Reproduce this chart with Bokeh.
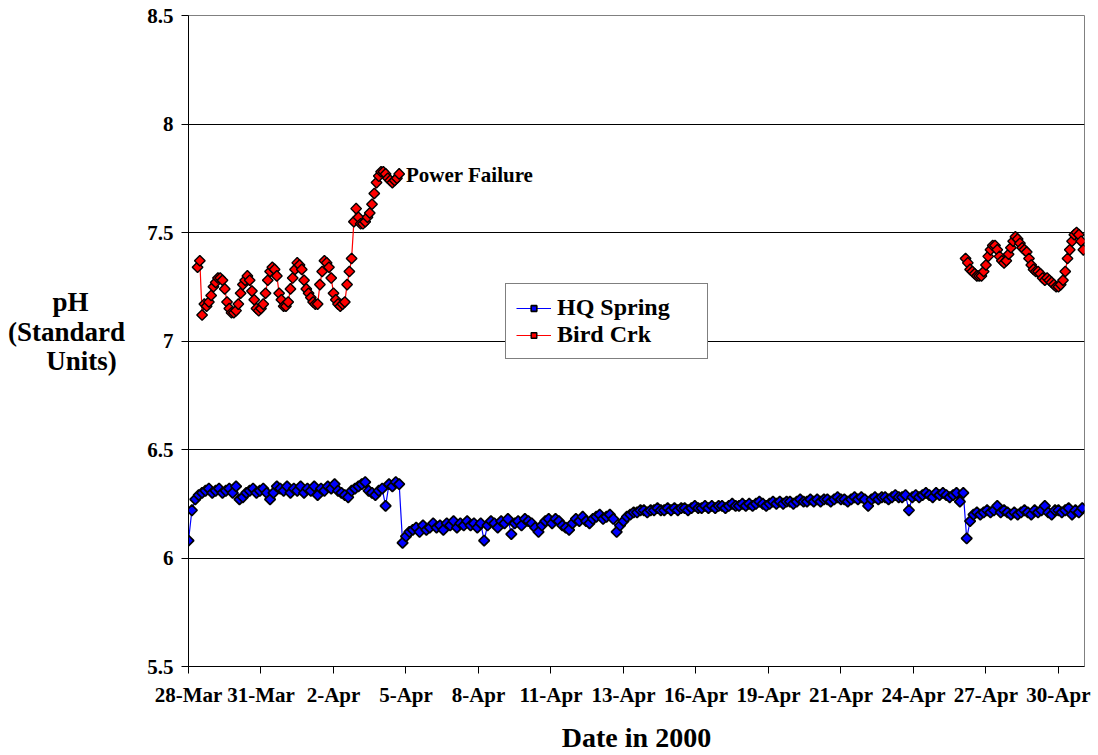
import math
from bokeh.plotting import figure
from bokeh.layouts import row
from bokeh.models import (Range1d, FixedTicker, Label, Legend, LegendItem,
                          ColumnDataSource, CustomJSTickFormatter)
from bokeh.embed import file_html
from bokeh.resources import INLINE

# ---------------- data ----------------
tick_labels = ["28-Mar", "31-Mar", "2-Apr", "5-Apr", "8-Apr", "11-Apr", "13-Apr",
               "16-Apr", "19-Apr", "21-Apr", "24-Apr", "27-Apr", "30-Apr"]
readings_per_label = 64          # hourly readings between category labels
last_reading = 791

y_ticks = [5.5, 6, 6.5, 7, 7.5, 8, 8.5]
y_title_lines = ["pH", "(Standard", "Units)"]

hq_step = 3                      # HQ Spring: every 3rd hourly reading, from reading 0
hq_spring_ph = [
    6.08, 6.22, 6.27, 6.29, 6.30, 6.31, 6.32, 6.30, 6.31, 6.32,
    6.30, 6.31, 6.32, 6.30, 6.33, 6.27, 6.28, 6.30, 6.31, 6.32,
    6.30, 6.31, 6.32, 6.30, 6.27, 6.30, 6.33, 6.32, 6.31, 6.33,
    6.30, 6.32, 6.31, 6.33, 6.30, 6.32, 6.31, 6.33, 6.29, 6.32,
    6.31, 6.33, 6.32, 6.34, 6.31, 6.30, 6.29, 6.28, 6.31, 6.32,
    6.33, 6.34, 6.35, 6.31, 6.30, 6.29, 6.31, 6.32, 6.24, 6.34,
    6.33, 6.35, 6.34,
    6.07, 6.10, 6.12, 6.13, 6.14, 6.12, 6.15, 6.13, 6.14, 6.16,
    6.14, 6.15, 6.13, 6.16, 6.15, 6.17, 6.14, 6.16, 6.15, 6.17,
    6.15, 6.16, 6.14, 6.16, 6.08, 6.15, 6.17, 6.16, 6.14, 6.17,
    6.16, 6.18, 6.11, 6.16, 6.17, 6.15, 6.18, 6.17, 6.16, 6.14,
    6.12, 6.15, 6.17, 6.18, 6.16, 6.18, 6.17, 6.15, 6.14, 6.13,
    6.16, 6.18, 6.17, 6.19, 6.17, 6.16, 6.18, 6.19, 6.20, 6.18,
    6.19, 6.20, 6.18,
    6.12, 6.15, 6.17, 6.19, 6.20, 6.21, 6.21, 6.22, 6.22, 6.21,
    6.22, 6.22, 6.23, 6.22, 6.22, 6.23, 6.22, 6.23, 6.22, 6.23,
    6.23, 6.22, 6.23, 6.24, 6.23, 6.23, 6.24, 6.23, 6.24, 6.23,
    6.24, 6.24, 6.23, 6.24, 6.25, 6.24, 6.24, 6.25, 6.24, 6.25,
    6.24, 6.25, 6.26, 6.25, 6.24, 6.25, 6.26, 6.25, 6.26, 6.25,
    6.26, 6.26, 6.25, 6.26, 6.27, 6.26, 6.26, 6.27, 6.26, 6.27,
    6.26, 6.27, 6.27, 6.26, 6.27, 6.28, 6.27, 6.27, 6.26, 6.27,
    6.28, 6.27, 6.28, 6.27, 6.24, 6.27, 6.28, 6.27, 6.28, 6.28,
    6.27, 6.28, 6.29, 6.28, 6.28, 6.29, 6.22, 6.28, 6.29, 6.28,
    6.29, 6.30, 6.29, 6.28, 6.30, 6.29, 6.30, 6.29, 6.28, 6.29,
    6.30, 6.26, 6.30,
    6.09, 6.17, 6.20, 6.21, 6.20, 6.21, 6.22, 6.21, 6.22, 6.24,
    6.21, 6.22, 6.21, 6.20, 6.21, 6.20, 6.21, 6.22, 6.21, 6.20,
    6.22, 6.21, 6.22, 6.24, 6.21, 6.20, 6.22, 6.22, 6.21, 6.22,
    6.23, 6.20, 6.22, 6.21, 6.23,
]

bird_step = 2                    # Bird Crk: every 2nd hourly reading
bird_start_before = 8            # first reading before the power failure
bird_crk_ph_before = [
    7.34, 7.37, 7.12, 7.17, 7.16, 7.18, 7.21, 7.25, 7.27, 7.29,
    7.29, 7.28, 7.24, 7.18, 7.15, 7.13, 7.13, 7.14, 7.17, 7.22,
    7.26, 7.28, 7.30, 7.28, 7.23, 7.19, 7.15, 7.14, 7.15, 7.17,
    7.22, 7.28, 7.32, 7.34, 7.33, 7.30, 7.22, 7.19, 7.16, 7.16,
    7.18, 7.24, 7.29, 7.33, 7.36, 7.35, 7.33, 7.28, 7.24, 7.22,
    7.20, 7.18, 7.17, 7.17, 7.26, 7.32, 7.37, 7.36, 7.34, 7.29,
    7.22, 7.19, 7.17, 7.16, 7.17, 7.18, 7.26, 7.32, 7.38, 7.55,
    7.61, 7.57, 7.54, 7.54, 7.55, 7.57, 7.59, 7.63, 7.68, 7.73,
    7.76, 7.78, 7.78, 7.77, 7.75, 7.74, 7.73, 7.74, 7.75, 7.77,
]
bird_start_after = 686           # first reading after power restored
bird_crk_ph_after = [
    7.38, 7.36, 7.33, 7.32, 7.31, 7.30, 7.30, 7.30, 7.32, 7.35,
    7.39, 7.42, 7.44, 7.44, 7.42, 7.39, 7.37, 7.36, 7.37, 7.40,
    7.43, 7.46, 7.48, 7.47, 7.45, 7.43, 7.42, 7.41, 7.38, 7.35,
    7.33, 7.32, 7.32, 7.31, 7.29, 7.28, 7.29, 7.28, 7.27, 7.26,
    7.25, 7.25, 7.26, 7.28, 7.32, 7.38, 7.42, 7.46, 7.49, 7.50,
    7.49, 7.46, 7.42,
]

# ---------------- sources ----------------
hq_x = [i * hq_step for i in range(len(hq_spring_ph))]
bx1 = [bird_start_before + i * bird_step for i in range(len(bird_crk_ph_before))]
bx2 = [bird_start_after + i * bird_step for i in range(len(bird_crk_ph_after))]
bird_x = bx1 + [math.nan] + bx2
bird_y = bird_crk_ph_before + [math.nan] + bird_crk_ph_after

hq_src = ColumnDataSource(dict(x=hq_x, y=hq_spring_ph))
bird_src = ColumnDataSource(dict(x=bird_x, y=bird_y))

FONT = "Liberation Serif"
H = 755
TW = 143                       # width of the y-title strip
TOP, BOTTOM = 15, 89           # borders above / below the plotting area

# ---------------- y-title strip (page-pixel coordinates) ----------------
pt = figure(width=TW, height=H, output_backend="svg", toolbar_location=None,
            x_range=Range1d(0, TW), y_range=Range1d(H - BOTTOM, TOP),
            x_axis_location=None, y_axis_location=None,
            min_border_left=0, min_border_right=0,
            min_border_top=TOP, min_border_bottom=BOTTOM)
pt.grid.visible = False
pt.outline_line_color = None
pt.background_fill_color = "white"
pt.border_fill_color = "white"
for txt, cx, cy in zip(y_title_lines, (70, 66, 81), (301, 331, 360)):
    pt.add_layout(Label(x=cx, y=cy, text=txt, text_font=FONT, text_font_style="bold",
                        text_font_size="27px", text_color="black",
                        text_align="center", text_baseline="middle"))

# ---------------- main chart ----------------
p = figure(width=1098 - TW, height=H, output_backend="svg", toolbar_location=None,
           x_range=Range1d(0, last_reading), y_range=Range1d(5.5, 8.5),
           min_border_left=188 - TW, min_border_right=14, min_border_top=TOP,
           min_border_bottom=BOTTOM)
p.background_fill_color = "white"
p.border_fill_color = "white"
p.outline_line_color = "#808080"
p.outline_line_width = 1

p.xgrid.visible = False
p.ygrid.grid_line_color = "black"
p.ygrid.grid_line_width = 1
p.ygrid.ticker = FixedTicker(ticks=y_ticks)

xticks = [i * readings_per_label for i in range(len(tick_labels))]
p.xaxis.ticker = FixedTicker(ticks=xticks)
p.xaxis.major_label_overrides = {t: lab for t, lab in zip(xticks, tick_labels)}
p.yaxis.ticker = FixedTicker(ticks=y_ticks)
p.yaxis.formatter = CustomJSTickFormatter(code="return String(tick);")

for ax in (p.xaxis[0], p.yaxis[0]):
    ax.axis_line_color = "black"
    ax.axis_line_width = 1
    ax.major_tick_line_color = "black"
    ax.major_tick_in = 0
    ax.major_tick_out = 7
    ax.minor_tick_in = 0
    ax.minor_tick_out = 0
    ax.major_label_text_font = FONT
    ax.major_label_text_font_style = "bold"
    ax.major_label_text_font_size = "21px"
    ax.major_label_text_color = "black"
p.xaxis.major_label_standoff = 9
p.yaxis.major_label_standoff = 8
p.xaxis.axis_label = "Date in 2000"
p.xaxis.axis_label_text_font = FONT
p.xaxis.axis_label_text_font_style = "bold"
p.xaxis.axis_label_text_font_size = "28px"
p.xaxis.axis_label_text_color = "black"
p.xaxis.axis_label_standoff = 12

# ---------------- series ----------------
bl = p.line("x", "y", source=hq_src, line_color="#0000FF", line_width=1.2)
bs = p.scatter("x", "y", source=hq_src, marker="square", angle=math.pi / 4, size=7.5,
               fill_color="#0000FF", line_color="black", line_width=1.7)
rl = p.line("x", "y", source=bird_src, line_color="#FF0000", line_width=1.2)
rs = p.scatter("x", "y", source=bird_src, marker="square", angle=math.pi / 4, size=7.5,
               fill_color="#FF0000", line_color="black", line_width=1.4)

legend = Legend(items=[LegendItem(label="HQ Spring", renderers=[bl, bs]),
                       LegendItem(label="Bird Crk", renderers=[rl, rs])],
                location=(317, 307))
legend.border_line_color = "black"
legend.border_line_width = 1
legend.background_fill_color = "white"
legend.background_fill_alpha = 1
legend.label_text_font = FONT
legend.label_text_font_style = "bold"
legend.label_text_font_size = "24px"
legend.label_text_color = "black"
legend.label_text_baseline = "middle"
legend.glyph_width = 35
legend.glyph_height = 14
legend.label_height = 14
legend.label_width = 140
legend.label_standoff = 6
legend.padding = 10
legend.spacing = 0
legend.margin = 0
p.add_layout(legend)

p.add_layout(Label(x=192, y=7.765, text="Power Failure", text_font=FONT,
                   text_font_style="bold", text_font_size="21px", text_color="black",
                   text_align="left", text_baseline="middle"))

layout = row(pt, p)
layout.spacing = 0
open("out.html", "w").write(file_html(layout, INLINE))
